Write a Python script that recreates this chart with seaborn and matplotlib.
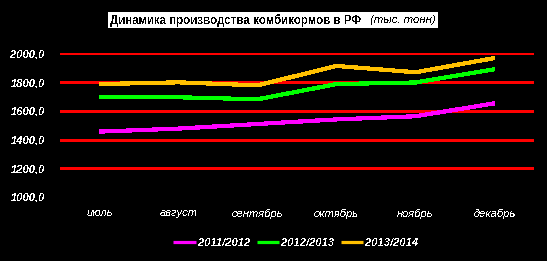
import matplotlib
matplotlib.use("Agg")
import matplotlib.pyplot as plt
import seaborn as sns
import pandas as pd
import numpy as np
from matplotlib.patches import Rectangle

months = ["июль", "август", "сентябрь", "октябрь", "ноябрь", "декабрь"]
series_names = ["2011/2012", "2012/2013", "2013/2014"]
v_2011_2012 = [1455, 1476, 1508, 1540, 1562, 1652]
v_2012_2013 = [1694, 1694, 1680, 1786, 1797, 1889]
v_2013_2014 = [1786, 1798, 1777, 1912, 1868, 1967]
y_ticks = [1000, 1200, 1400, 1600, 1800, 2000]
colors = ["#FF00FF", "#00FF00", "#FFC000"]

sns.set_theme(style="dark")
plt.rcParams["font.family"] = ["Liberation Sans", "DejaVu Sans"]
plt.rcParams["text.antialiased"] = False

rows = []
for name, vals in zip(series_names, [v_2011_2012, v_2012_2013, v_2013_2014]):
    for m, v in zip(months, vals):
        rows.append({"month": m, "value": v, "series": name})
df = pd.DataFrame(rows)

W, H = 547, 261
fig = plt.figure(figsize=(W / 100, H / 100), dpi=100, facecolor="black")
ax = fig.add_axes([60 / W, 1 - 197 / H, (534 - 60) / W, (197 - 53.3) / H])
ax.set_facecolor("black")

sns.lineplot(data=df, x="month", y="value", hue="series", palette=colors,
             linewidth=2.3, ax=ax, sort=False, legend=True)
for ln in ax.lines:
    ln.set_antialiased(False)
    ln.set_solid_capstyle("butt")

ax.set_xlim(-0.5, 5.5)
ax.set_ylim(1000, 2000)
ax.set_yticks(y_ticks)
ax.set_yticklabels([f"{t},0" for t in y_ticks], color="white", fontsize=8,
                   fontweight="bold", fontstyle="italic")
ax.set_xticks(range(len(months)))
ax.set_xticklabels(months, color="white", fontsize=8, fontstyle="italic")
ax.tick_params(axis="x", length=0, pad=8)
ax.tick_params(axis="y", length=0, pad=11)
ax.set_xlabel("")
ax.set_ylabel("")
for s in ax.spines.values():
    s.set_visible(False)
ax.grid(False)
ax.yaxis.grid(True, color="#FF0000", linewidth=0.75)
ax.set_axisbelow(True)
ax.get_ygridlines()[0].set_visible(False)
for gl in ax.get_ygridlines():
    gl.set_antialiased(False)

leg = ax.legend(loc="center", bbox_to_anchor=(296 / W, 1 - 243 / H),
                bbox_transform=fig.transFigure, ncol=3, frameon=False,
                handlelength=2.0, handletextpad=0.2, columnspacing=0.6,
                prop={"size": 8, "weight": "bold", "style": "italic"})
for t in leg.get_texts():
    t.set_color("white")
for h in leg.get_lines():
    h.set_linewidth(2.3)

# title box
fig.patches.append(Rectangle((108 / W, 1 - 28 / H), (438 - 108) / W, 16 / H,
                             transform=fig.transFigure, facecolor="white",
                             edgecolor="none"))
t1 = fig.text(110 / W, 1 - 20 / H, "Динамика производства комбикормов в РФ",
              color="black", fontsize=8, fontweight="bold", va="center", ha="left")
t2 = fig.text(436 / W, 1 - 20 / H, "(тыс. тонн)", color="black", fontsize=8,
              fontstyle="italic", va="center", ha="right")

renderer = fig.canvas.get_renderer()


def fit(txt, target):
    best, bd = 8, 1e9
    for fs in np.arange(7.0, 9.6, 0.1):
        txt.set_fontsize(fs)
        w = txt.get_window_extent(renderer).width
        if abs(w - target) < bd:
            bd, best = abs(w - target), fs
    txt.set_fontsize(best)


fit(t1, 252)
fit(t2, 66)

fig.savefig("out.png", dpi=100, facecolor="black")
